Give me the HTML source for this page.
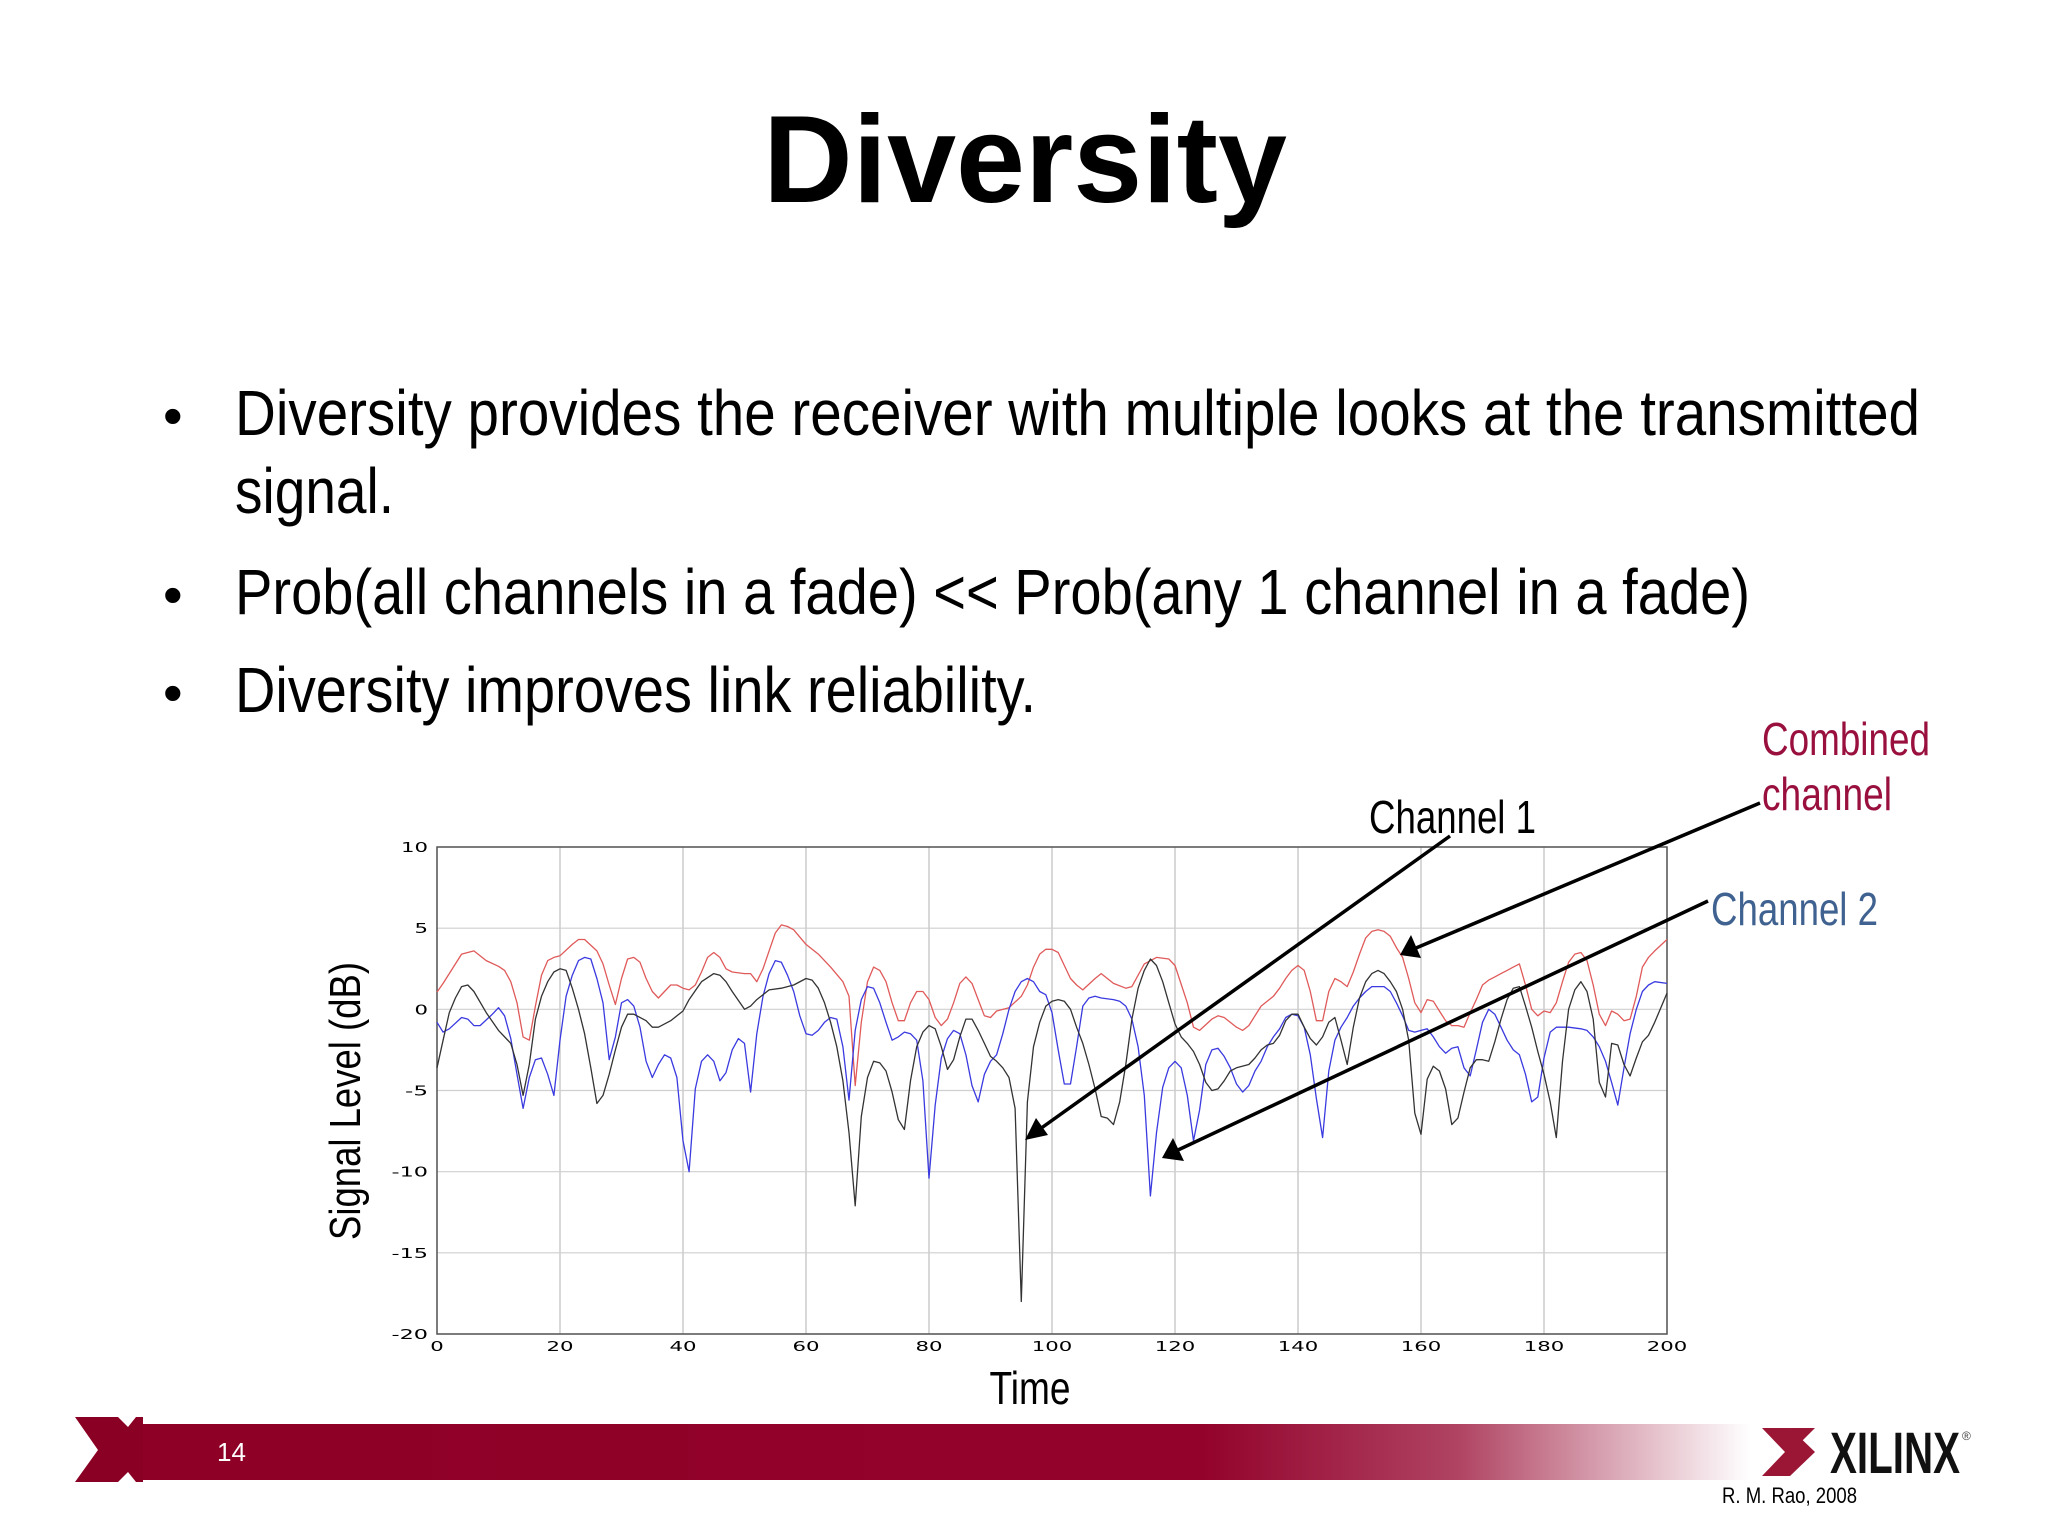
<!DOCTYPE html>
<html><head><meta charset="utf-8"><title>Diversity</title>
<style>html,body{margin:0;padding:0;background:#fff}svg{display:block}</style></head>
<body>
<svg id="slide" width="2048" height="1536" viewBox="0 0 2048 1536" xmlns="http://www.w3.org/2000/svg">
<defs>
<linearGradient id="barGrad" x1="0" x2="1" y1="0" y2="0">
<stop offset="0" stop-color="#8e0026"/>
<stop offset="0.66" stop-color="#93022b"/>
<stop offset="0.82" stop-color="#b04463"/>
<stop offset="1" stop-color="#ffffff"/>
</linearGradient>
</defs>
<text x="1025" y="202" text-anchor="middle" font-family="Liberation Sans, sans-serif" font-weight="bold" font-size="124">Diversity</text>
<g font-family="Liberation Sans Narrow, Liberation Sans, sans-serif" font-size="64" fill="#000">
<text x="163" y="435" font-family="Liberation Sans, sans-serif" font-size="56">•</text>
<text x="235" y="435" textLength="1685" lengthAdjust="spacingAndGlyphs">Diversity provides the receiver with multiple looks  at the transmitted</text>
<text x="235" y="513" textLength="159" lengthAdjust="spacingAndGlyphs">signal.</text>
<text x="163" y="614" font-family="Liberation Sans, sans-serif" font-size="56">•</text>
<text x="235" y="614" textLength="1515" lengthAdjust="spacingAndGlyphs">Prob(all channels in a fade) &lt;&lt; Prob(any 1 channel in a fade)</text>
<text x="163" y="712" font-family="Liberation Sans, sans-serif" font-size="56">•</text>
<text x="235" y="712" textLength="801" lengthAdjust="spacingAndGlyphs">Diversity improves link reliability.</text>
</g>
<g id="chart"></g>
<g font-family="Liberation Sans Narrow, Liberation Sans, sans-serif" font-size="46">
<text x="1369" y="833" textLength="167" lengthAdjust="spacingAndGlyphs" fill="#000">Channel 1</text>
<text x="1762" y="755" textLength="168" lengthAdjust="spacingAndGlyphs" fill="#99103f">Combined</text>
<text x="1762" y="810" textLength="130" lengthAdjust="spacingAndGlyphs" fill="#99103f">channel</text>
<text x="1711" y="925" textLength="167" lengthAdjust="spacingAndGlyphs" fill="#3f6290">Channel 2</text>
<g><line x1="1450" y1="836" x2="1040" y2="1129" stroke="#000" stroke-width="3.5"/><polygon points="1025,1140 1036,1118 1048,1135" fill="#000"/></g>
<g><line x1="1760" y1="803" x2="1416" y2="948" stroke="#000" stroke-width="3.5"/><polygon points="1400,955 1411,935 1421,958" fill="#000"/></g>
<g><line x1="1708" y1="901" x2="1178" y2="1150" stroke="#000" stroke-width="3.5"/><polygon points="1162,1158 1173,1138 1184,1161" fill="#000"/></g>
</g>
<g>
<rect x="140" y="1424" width="1610" height="56" fill="url(#barGrad)"/>
<polygon points="75,1417 118,1417 128,1427 136,1417 143,1417 143,1482 136,1482 128,1472 118,1482 75,1482 98,1450" fill="#8a0024"/>
<text x="217" y="1461" font-family="Liberation Sans, sans-serif" font-size="26" fill="#fff">14</text>
<polygon points="1762,1428 1790,1428 1815,1452 1790,1476 1762,1476 1785,1452" fill="#9b1535"/>
<polygon points="1790,1428 1815,1428 1800,1443" fill="#9b1535"/>
<text x="1830" y="1473" font-family="Liberation Sans Narrow, Liberation Sans, sans-serif" font-weight="bold" font-size="58" textLength="130" lengthAdjust="spacingAndGlyphs" fill="#111">XILINX</text>
<text x="1962" y="1440" font-family="Liberation Sans, sans-serif" font-size="12" fill="#444">®</text>
<text x="1722" y="1503" font-family="Liberation Sans Narrow, Liberation Sans, sans-serif" font-size="22" textLength="135" lengthAdjust="spacingAndGlyphs" fill="#000">R. M. Rao, 2008</text>
</g>
</svg>
<script>
const xTicks = [0,20,40,60,80,100,120,140,160,180,200];
const yTicks = [10,5,0,-5,-10,-15,-20];
const redT = [0,1,4,6,8,10,11,12,13,14,15,16,17,18,19,20,22,23,24,26,27,28,29,30,31,32,33,34,35,36,37,38,39,40,41,42,43,44,45,46,47,48,50,51,52,53,54,55,56,57,58,60,62,64,66,67,68,69,70,71,72,73,74,75,76,77,78,79,80,81,82,83,84,85,86,87,88,89,90,91,93,95,96,97,98,99,100,101,103,104,105,107,108,110,112,113,115,117,119,120,122,123,124,126,127,128,130,131,132,134,136,137,138,139,140,141,142,143,144,145,146,147,148,149,150,151,152,153,154,155,156,157,158,159,160,161,162,163,164,165,166,167,168,169,170,171,172,173,174,175,176,177,178,179,180,181,182,183,184,185,186,187,188,189,190,191,192,193,194,195,196,197,198,200];
const redV = [1.06,1.6,3.4,3.6,3.0,2.65,2.4,1.7,0.4,-1.7,-1.9,0.2,2.1,3.0,3.2,3.3,4.0,4.3,4.3,3.6,2.8,1.5,0.3,1.9,3.1,3.2,2.9,1.9,1.1,0.7,1.1,1.5,1.5,1.3,1.2,1.5,2.3,3.2,3.5,3.2,2.5,2.3,2.2,2.2,1.7,2.5,3.6,4.7,5.2,5.1,4.9,4.0,3.4,2.6,1.7,0.8,-4.7,-0.8,1.7,2.6,2.4,1.7,0.4,-0.7,-0.7,0.4,1.1,1.1,0.6,-0.5,-1.0,-0.6,0.4,1.6,2.0,1.6,0.6,-0.4,-0.5,-0.1,0.1,0.8,1.5,2.6,3.4,3.7,3.7,3.5,1.9,1.5,1.2,1.9,2.2,1.6,1.3,1.4,2.8,3.2,3.1,2.7,0.4,-1.1,-1.3,-0.6,-0.4,-0.5,-1.1,-1.3,-1.0,0.2,0.8,1.3,1.9,2.4,2.7,2.4,1.1,-0.7,-0.7,1.1,1.9,1.7,1.4,2.3,3.4,4.4,4.8,4.9,4.8,4.5,3.8,3.2,1.9,0.4,-0.2,0.6,0.5,-0.1,-0.7,-1.0,-1.0,-1.1,-0.2,0.6,1.5,1.8,2.0,2.2,2.4,2.6,2.8,1.5,0.0,-0.4,-0.1,-0.2,0.4,1.7,2.9,3.4,3.5,3.0,1.5,-0.3,-1.0,-0.1,-0.3,-0.7,-0.6,0.8,2.6,3.2,3.6,4.3];
const ch1T = [0,1,2,3,4,5,6,8,10,12,13,14,15,16,17,18,19,20,21,22,23,24,25,26,27,28,29,30,31,32,34,35,36,38,40,41,43,45,46,47,48,50,51,52,54,56,58,60,61,62,63,64,65,66,67,68,69,70,71,72,73,74,75,76,77,78,79,80,81,82,83,84,85,86,87,88,89,90,91,92,93,94,95,96,97,98,99,100,101,102,103,104,105,106,107,108,109,110,111,112,113,114,115,116,117,118,119,120,121,122,123,124,125,126,127,128,129,130,132,133,134,135,136,137,138,139,140,141,142,143,144,145,146,147,148,149,150,151,152,153,154,155,156,157,158,159,160,161,162,163,164,165,166,167,168,169,170,171,172,173,174,175,176,177,178,179,180,181,182,183,184,185,186,187,188,189,190,191,192,193,194,195,196,197,198,200];
const ch1V = [-3.6,-1.9,-0.2,0.7,1.4,1.5,1.1,-0.2,-1.3,-2.1,-3.4,-5.3,-3.4,-0.6,0.8,1.7,2.3,2.5,2.4,1.3,0.0,-1.5,-3.6,-5.8,-5.3,-4.0,-2.5,-1.1,-0.3,-0.3,-0.7,-1.1,-1.1,-0.7,-0.1,0.6,1.7,2.2,2.1,1.7,1.1,0.0,0.2,0.6,1.2,1.3,1.5,1.9,1.8,1.3,0.4,-0.8,-2.3,-4.4,-7.6,-12.1,-6.6,-4.2,-3.2,-3.3,-3.8,-5.1,-6.8,-7.4,-4.4,-2.3,-1.4,-1.0,-1.2,-2.3,-3.7,-3.1,-1.7,-0.6,-0.6,-1.3,-2.1,-2.9,-3.2,-3.6,-4.2,-6.1,-18.0,-5.7,-2.3,-0.8,0.2,0.5,0.6,0.5,0.0,-1.1,-2.1,-3.4,-4.9,-6.6,-6.7,-7.1,-5.7,-3.4,-0.6,1.3,2.4,3.1,2.7,1.7,0.4,-0.9,-1.7,-2.1,-2.6,-3.4,-4.5,-5.0,-4.9,-4.4,-3.8,-3.6,-3.4,-3.0,-2.5,-2.2,-2.1,-1.6,-0.7,-0.3,-0.3,-1.1,-1.8,-2.2,-1.7,-0.8,-0.5,-1.9,-3.4,-1.1,0.7,1.7,2.2,2.4,2.2,1.7,1.1,0.0,-1.9,-6.4,-7.7,-4.3,-3.5,-3.8,-4.9,-7.1,-6.7,-5.1,-3.6,-3.1,-3.1,-3.2,-2.0,-0.6,0.6,1.3,1.4,0.2,-1.1,-2.6,-4.0,-5.7,-7.9,-3.2,0.0,1.2,1.7,1.1,-0.6,-4.5,-5.4,-2.1,-2.2,-3.4,-4.1,-3.0,-2.0,-1.6,-0.8,1.0];
const ch2T = [0,1,2,4,5,6,7,9,10,11,12,13,14,15,16,17,18,19,20,21,22,23,24,25,26,27,28,29,30,31,32,33,34,35,36,37,38,39,40,41,42,43,44,45,46,47,48,49,50,51,52,53,54,55,56,57,58,59,60,61,62,63,64,65,66,67,68,69,70,71,72,73,74,75,76,77,78,79,80,81,82,83,84,85,86,87,88,89,90,91,92,93,94,95,96,97,98,99,100,101,102,103,104,105,106,107,108,110,111,112,113,114,115,116,117,118,119,120,121,122,123,124,125,126,127,128,129,130,131,132,133,134,135,136,137,138,139,140,141,142,143,144,145,146,147,148,149,150,151,152,153,154,155,156,157,158,159,160,161,162,163,164,165,166,167,168,169,170,171,172,173,174,175,176,177,178,179,180,181,182,184,186,187,188,189,190,191,192,193,194,195,196,197,198,200];
const ch2V = [-0.8,-1.4,-1.2,-0.5,-0.6,-1.0,-1.0,-0.3,0.1,-0.4,-1.8,-4.0,-6.1,-4.2,-3.1,-3.0,-4.0,-5.3,-1.9,0.8,2.1,3.0,3.2,3.1,1.9,0.4,-3.1,-1.7,0.4,0.6,0.2,-1.1,-3.2,-4.2,-3.4,-2.8,-3.0,-4.2,-8.1,-10.0,-4.9,-3.2,-2.8,-3.2,-4.4,-3.9,-2.5,-1.8,-2.1,-5.1,-1.5,0.8,2.2,3.0,2.9,2.1,1.1,-0.4,-1.5,-1.6,-1.3,-0.8,-0.5,-0.6,-2.3,-5.6,-1.3,0.6,1.4,1.3,0.4,-0.8,-1.9,-1.7,-1.4,-1.5,-1.9,-4.4,-10.4,-5.9,-3.0,-1.8,-1.3,-1.5,-2.8,-4.7,-5.7,-4.0,-3.2,-2.8,-1.5,0.0,1.1,1.7,1.9,1.7,1.1,0.9,-0.2,-2.5,-4.6,-4.6,-2.3,0.2,0.7,0.8,0.7,0.6,0.5,0.2,-0.6,-2.3,-5.3,-11.5,-7.6,-4.8,-3.6,-3.2,-3.6,-5.3,-8.1,-6.2,-3.4,-2.5,-2.4,-2.9,-3.6,-4.6,-5.1,-4.7,-3.8,-3.2,-2.3,-1.7,-1.2,-0.5,-0.3,-0.4,-1.1,-2.8,-5.5,-7.9,-3.8,-1.9,-1.1,-0.5,0.2,0.7,1.1,1.4,1.4,1.4,1.1,0.4,-0.4,-1.3,-1.4,-1.3,-1.2,-1.7,-2.3,-2.7,-2.4,-2.3,-3.6,-4.1,-2.5,-0.8,0.0,-0.3,-1.1,-1.9,-2.5,-2.8,-4.0,-5.7,-5.4,-3.0,-1.4,-1.1,-1.1,-1.2,-1.3,-1.7,-2.3,-3.2,-4.5,-5.9,-3.6,-1.5,0.0,1.1,1.5,1.7,1.6];

const NS = 'http://www.w3.org/2000/svg';
const L = 437, R = 1667, T = 847, B = 1334;
const xMin = 0, xMax = 200, yMin = -20, yMax = 10;
function xs(t){ return L + (t - xMin) / (xMax - xMin) * (R - L); }
function ys(v){ return T + (yMax - v) / (yMax - yMin) * (B - T); }
function mk(tag, attrs){ const e = document.createElementNS(NS, tag); for (const k in attrs) e.setAttribute(k, attrs[k]); return e; }
const chart = document.getElementById('chart');

const plotBg = mk('rect', {x:L, y:T, width:R-L, height:B-T, fill:'#fff'});


chart.appendChild(plotBg);

xTicks.forEach(t => {
  const g = mk('line', {x1:xs(t), x2:xs(t), y1:T, y2:B, stroke:'#bdbdbd', 'stroke-width':1.2});
  
  
  chart.appendChild(g);
  const lb = mk('text', {x:xs(t), y:1351, 'text-anchor':'middle', 'font-family':'DejaVu Sans, sans-serif', 'font-size':13, textLength:String(t).length*13.5, lengthAdjust:'spacingAndGlyphs', fill:'#000'});
  lb.textContent = t;
  
  
  chart.appendChild(lb);
});
yTicks.forEach(v => {
  const g = mk('line', {x1:L, x2:R, y1:ys(v), y2:ys(v), stroke:'#cfcfcf', 'stroke-width':1.2});
  
  
  chart.appendChild(g);
  const s = String(v);
  const lb = mk('text', {x:428, y:ys(v)+5, 'text-anchor':'end', 'font-family':'DejaVu Sans, sans-serif', 'font-size':13, textLength:s.length*13.5 - (v<0?4:0), lengthAdjust:'spacingAndGlyphs', fill:'#000'});
  lb.textContent = s;
  
  
  chart.appendChild(lb);
});

const frame = mk('rect', {x:L, y:T, width:R-L, height:B-T, fill:'none', stroke:'#555', 'stroke-width':1.5});


chart.appendChild(frame);

function drawSeries(tArr, vArr, color, name){
  const pts = tArr.map((t,i) => xs(t).toFixed(1) + ',' + ys(vArr[i]).toFixed(1)).join(' ');
  const pl = mk('polyline', {points:pts, fill:'none', stroke:color, 'stroke-width':1.3, 'stroke-linejoin':'round'});
  
  
  chart.appendChild(pl);
}
drawSeries(redT, redV, '#e05a5a', 'combined-channel-line');
drawSeries(ch2T, ch2V, '#3a3ae0', 'channel-2-line');
drawSeries(ch1T, ch1V, '#333333', 'channel-1-line');

const yTitle = mk('text', {x:0, y:0, transform:'translate(360,1101) rotate(-90)', 'text-anchor':'middle', 'font-family':'Liberation Sans Narrow, Liberation Sans, sans-serif', 'font-size':44, textLength:278, lengthAdjust:'spacingAndGlyphs', fill:'#000'});
yTitle.textContent = 'Signal Level (dB)';


chart.appendChild(yTitle);

const xTitle = mk('text', {x:1030, y:1404, 'text-anchor':'middle', 'font-family':'Liberation Sans Narrow, Liberation Sans, sans-serif', 'font-size':46, textLength:81, lengthAdjust:'spacingAndGlyphs', fill:'#000'});
xTitle.textContent = 'Time';


chart.appendChild(xTitle);
</script>
</body></html>
